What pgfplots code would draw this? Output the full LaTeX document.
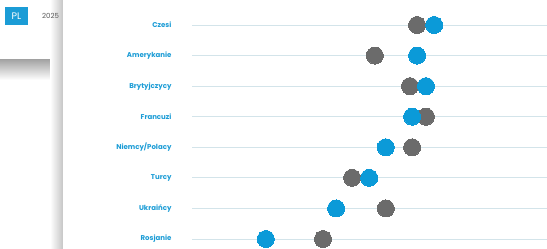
\documentclass[border=0pt]{standalone}
\usepackage{pgfplots}
\pgfplotsset{compat=1.18}
\usepackage{fontspec}
\setmainfont{Poppins}
\definecolor{dotblue}{HTML}{0B9AD8}
\definecolor{dotgray}{HTML}{6B6B6B}
\definecolor{lblblue}{HTML}{1B9CD6}
\definecolor{gridc}{HTML}{D3E4EA}
\begin{document}
\begin{tikzpicture}
\path[use as bounding box] (0pt,0pt) rectangle (547pt,249pt);
\fill[white] (0pt,0pt) rectangle (547pt,249pt);
\shade[top color=gray!70,bottom color=white] (0pt,169pt) rectangle (63pt,189pt);
\shade[left color=white,right color=gray!45] (50pt,0pt) rectangle (63pt,249pt);
\fill[lblblue] (5pt,224pt) rectangle (28pt,242pt);
\node[text=white,font=\fontsize{9.5}{9.5}\selectfont] at (16.5pt,233pt) {PL};
\node[anchor=west,text=black!65,font=\fontsize{7}{7}\selectfont,inner sep=0pt] at (42pt,233pt) {2025};
\fill[white] (63pt,0pt) rectangle (547pt,249pt);
\begin{axis}[
  at={(192pt,10pt)}, anchor=south west,
  scale only axis, width=355pt, height=214pt,
  xmin=0, xmax=100, ymin=1, ymax=8,
  clip=false,
  axis line style={draw=none},
  xtick=\empty,
  ytick={1,...,8},
  yticklabels={Rosjanie,Ukraińcy,Turcy,Niemcy/Polacy,Francuzi,Brytyjczycy,Amerykanie,Czesi},
  major tick length=0pt,
  ymajorgrids, grid style={gridc, line width=0.8pt},
  yticklabel style={font=\fontsize{7}{7.5}\selectfont\bfseries, text=lblblue, anchor=east, xshift=-17pt},
]
\addplot[only marks, mark=*, mark size=8.5pt, color=dotgray, mark options={fill=dotgray, draw=dotgray, line width=0pt}]
 coordinates {(36.9,1) (54.6,2) (45.1,3) (62.0,4) (65.9,5) (61.4,6) (51.5,7) (63.4,8)};
\addplot[only marks, mark=*, mark size=8.5pt, color=dotblue, mark options={fill=dotblue, draw=dotblue, line width=0pt}]
 coordinates {(20.8,1) (40.6,2) (49.9,3) (54.6,4) (62.0,5) (65.9,6) (63.4,7) (68.2,8)};
\end{axis}
\end{tikzpicture}
\end{document}
